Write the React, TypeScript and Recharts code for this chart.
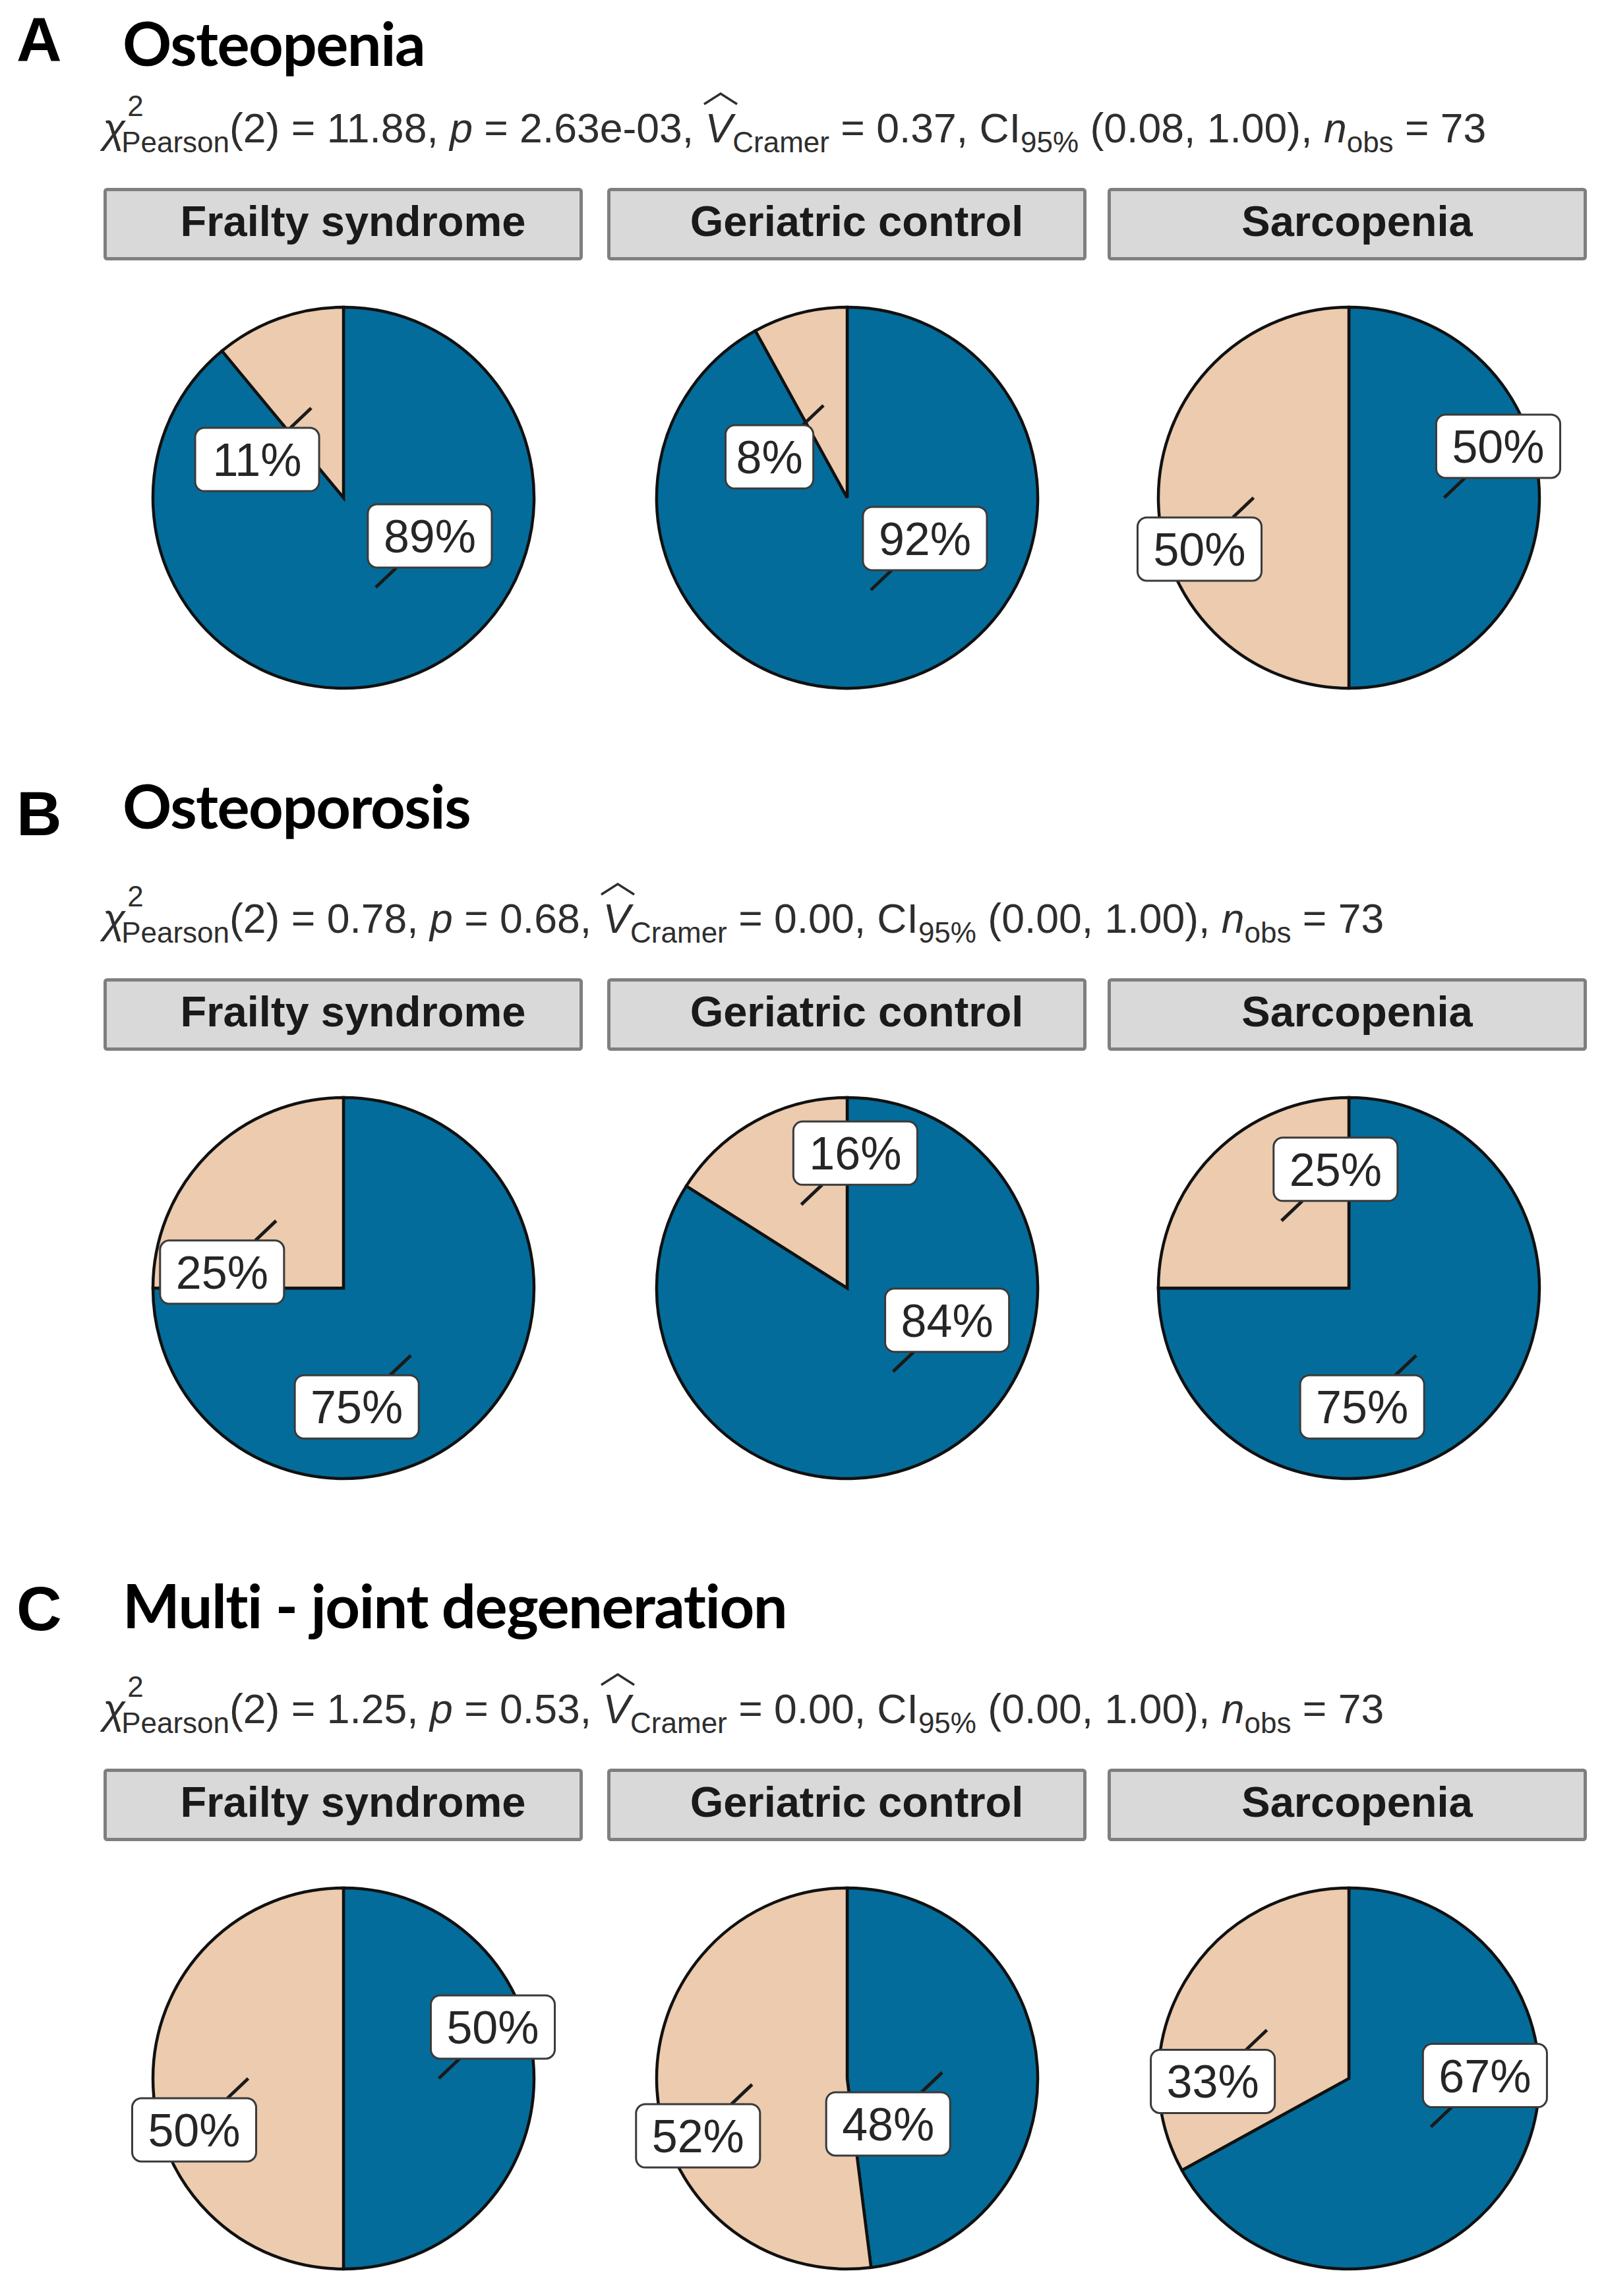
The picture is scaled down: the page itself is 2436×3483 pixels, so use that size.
import React from "react";
import { PieChart, Pie, Cell } from "recharts";

// ---------- data ----------
const PANEL_LETTERS = ["A", "B", "C"];
const PANEL_TITLES = ["Osteopenia", "Osteoporosis", "Multi - joint degeneration"];
const GROUPS = ["Frailty syndrome", "Geriatric control", "Sarcopenia"];
const SLICE_NAMES = ["No", "Yes"];

// percentages per group (Frailty, Geriatric, Sarcopenia)
const OSTEOPENIA_BLUE = [89, 92, 50];
const OSTEOPENIA_BEIGE = [11, 8, 50];
const OSTEOPOROSIS_BLUE = [75, 84, 75];
const OSTEOPOROSIS_BEIGE = [25, 16, 25];
const MULTIJOINT_BLUE = [50, 48, 67];
const MULTIJOINT_BEIGE = [50, 52, 33];

const CHI2_VALUES = ["11.88", "0.78", "1.25"];
const DF_VALUES = ["2", "2", "2"];
const P_VALUES = ["2.63e-03", "0.68", "0.53"];
const CRAMER_V = ["0.37", "0.00", "0.00"];
const CI_LOW = ["0.08", "0.00", "0.00"];
const CI_HIGH = ["1.00", "1.00", "1.00"];
const N_OBS = ["73", "73", "73"];

const BLUE_SERIES = [OSTEOPENIA_BLUE, OSTEOPOROSIS_BLUE, MULTIJOINT_BLUE];
const BEIGE_SERIES = [OSTEOPENIA_BEIGE, OSTEOPOROSIS_BEIGE, MULTIJOINT_BEIGE];

// ---------- styling / layout ----------
const COLORS = ["#046C9A", "#ECCBAE"];
const W = 2436;
const H = 3483;
const STRIP_X = [157, 921, 1680];
const STRIP_W = 727;
const STRIP_H = 110;
const STRIP_TOP = [285, 1484, 2683];
const LETTER_BASE = [93, 1267, 2473];
const TITLE_BASE = [100, 1257, 2470];
const STATS_BASE = [216, 1415, 2614];
const PIE_CX = [521, 1285, 2046];
const PIE_CY = [755, 1954, 3153];
const PIE_R = 289;
const BOX = 380; // half size of each pie chart svg

// repel direction of each label (x sign, y sign) – [panel][group][slice]
const LABEL_SIDES = [
  [[[1, -1], [-1, 1]], [[1, -1], [-1, 1]], [[1, -1], [-1, 1]]],
  [[[-1, 1], [-1, 1]], [[1, -1], [1, -1]], [[-1, 1], [1, -1]]],
  [[[1, -1], [-1, 1]], [[-1, 1], [-1, 1]], [[1, -1], [-1, 1]]],
];

const SANS = "'Liberation Sans', Arial, Helvetica, sans-serif";
const RADIAN = Math.PI / 180;

function makeLabel(sides: number[][], data: { name: string; value: number }[]) {
  return (props: any) => {
    const { cx, cy, midAngle, outerRadius, index } = props;
    const value = data[index].value;
    const text = `${value}%`;
    const fs = 70;
    const digits = String(value).length;
    const tw = (digits * 0.556 + 0.889) * fs;
    const hw = tw / 2 + (digits === 1 ? 16 : 24);
    const hh = 48;
    const ar = outerRadius * 0.5;
    const ax = cx + ar * Math.cos(-midAngle * RADIAN);
    const ay = cy + ar * Math.sin(-midAngle * RADIAN);
    const [sx, sy] = sides[index];
    const dx = sx * 82;
    const dy = sy * 78;
    const bx = ax + dx;
    const by = ay + dy;
    const tExit = Math.min(hw / Math.abs(dx), hh / Math.abs(dy));
    const ex = bx - dx * tExit;
    const ey = by - dy * tExit;
    return (
      <g key={`lab-${index}`}>
        {tExit < 1 && (
          <line x1={ax} y1={ay} x2={ex} y2={ey} stroke="#1a1a1a" strokeWidth={5} />
        )}
        <rect
          x={bx - hw}
          y={by - hh}
          width={hw * 2}
          height={hh * 2}
          rx={14}
          ry={14}
          fill="#ffffff"
          stroke="#3a3a3a"
          strokeWidth={3}
        />
        <text
          x={bx}
          y={by + 25}
          textAnchor="middle"
          fontFamily={SANS}
          fontSize={fs}
          fill="#262626"
        >
          {text}
        </text>
      </g>
    );
  };
}

function StatsLine({ i }: { i: number }) {
  const fs = 62.5;
  const sfs = 44;
  const sub: React.CSSProperties = { fontSize: sfs, position: "relative", top: 15 };
  return (
    <div
      style={{
        position: "absolute",
        left: 156,
        top: STATS_BASE[i] - 0.8465 * fs,
        fontFamily: SANS,
        fontSize: fs,
        lineHeight: `${fs}px`,
        color: "#2e2e2e",
        whiteSpace: "nowrap",
      }}
    >
      <span style={{ fontStyle: "italic" }}>χ</span>
      <span style={{ position: "relative", display: "inline-block", marginLeft: -6 }}>
        <span style={sub}>Pearson</span>
        <span style={{ position: "absolute", left: 9, top: -33, fontSize: sfs }}>2</span>
      </span>
      <span>{`(${DF_VALUES[i]}) = ${CHI2_VALUES[i]}, `}</span>
      <span style={{ fontStyle: "italic" }}>p</span>
      <span>{` = ${P_VALUES[i]}, `}</span>
      <span style={{ position: "relative", display: "inline-block", fontStyle: "italic" }}>
        V
        <svg
          width={56}
          height={21}
          style={{ position: "absolute", left: -5, top: -24, overflow: "visible" }}
        >
          <polyline points="3,19 28,3 53,19" fill="none" stroke="#2e2e2e" strokeWidth={3.5} />
        </svg>
      </span>
      <span style={sub}>Cramer</span>
      <span>{` = ${CRAMER_V[i]}, CI`}</span>
      <span style={sub}>95%</span>
      <span>{` (${CI_LOW[i]}, ${CI_HIGH[i]}), `}</span>
      <span style={{ fontStyle: "italic" }}>n</span>
      <span style={sub}>obs</span>
      <span>{` = ${N_OBS[i]}`}</span>
    </div>
  );
}

export default function App() {
  return (
    <div
      style={{
        position: "absolute",
        left: 0,
        top: 0,
        width: W,
        height: H,
        background: "#ffffff",
        overflow: "hidden",
      }}
    >
      <svg width={W} height={H} style={{ position: "absolute", left: 0, top: 0 }}>
        {PANEL_TITLES.map((title, i) => (
          <g key={`t-${i}`}>
            <text x={25} y={LETTER_BASE[i]} fontFamily={SANS} fontWeight="bold" fontSize={95} fill="#000">
              {PANEL_LETTERS[i]}
            </text>
            <text
              x={186}
              y={TITLE_BASE[i]}
              fontFamily="Lato, 'Open Sans', sans-serif"
              fontWeight={700}
              fontSize={92}
              letterSpacing={-1.5}
              fill="#000"
            >
              {title}
            </text>
            {GROUPS.map((g, j) => (
              <g key={`s-${i}-${j}`}>
                <rect
                  x={STRIP_X[j] + 2.5}
                  y={STRIP_TOP[i] + 2.5}
                  width={STRIP_W - 5}
                  height={STRIP_H - 5}
                  rx={3}
                  fill="#D9D9D9"
                  stroke="#7F7F7F"
                  strokeWidth={5}
                />
                <text
                  x={STRIP_X[j] + STRIP_W / 2 + 15}
                  y={STRIP_TOP[i] + 73}
                  textAnchor="middle"
                  fontFamily={SANS}
                  fontWeight="bold"
                  fontSize={65}
                  fill="#1a1a1a"
                >
                  {g}
                </text>
              </g>
            ))}
          </g>
        ))}
      </svg>
      {PANEL_TITLES.map((_, i) => (
        <StatsLine key={`st-${i}`} i={i} />
      ))}
      {PANEL_TITLES.map((_, i) =>
        GROUPS.map((g, j) => {
          const data = [
            { name: SLICE_NAMES[0], value: BLUE_SERIES[i][j] },
            { name: SLICE_NAMES[1], value: BEIGE_SERIES[i][j] },
          ];
          return (
            <div
              key={`p-${i}-${j}`}
              style={{
                position: "absolute",
                left: PIE_CX[j] - BOX,
                top: PIE_CY[i] - BOX,
                width: BOX * 2,
                height: BOX * 2,
              }}
            >
              <PieChart width={BOX * 2} height={BOX * 2} margin={{ top: 0, right: 0, bottom: 0, left: 0 }}>
                <Pie
                  data={data}
                  dataKey="value"
                  nameKey="name"
                  cx={BOX}
                  cy={BOX}
                  outerRadius={PIE_R}
                  startAngle={90}
                  endAngle={-270}
                  stroke="#111111"
                  strokeWidth={4.5}
                  isAnimationActive={false}
                  labelLine={false}
                  label={makeLabel(LABEL_SIDES[i][j], data)}
                >
                  {data.map((d, k) => (
                    <Cell key={`c-${k}`} fill={COLORS[k]} />
                  ))}
                </Pie>
              </PieChart>
            </div>
          );
        })
      )}
    </div>
  );
}
